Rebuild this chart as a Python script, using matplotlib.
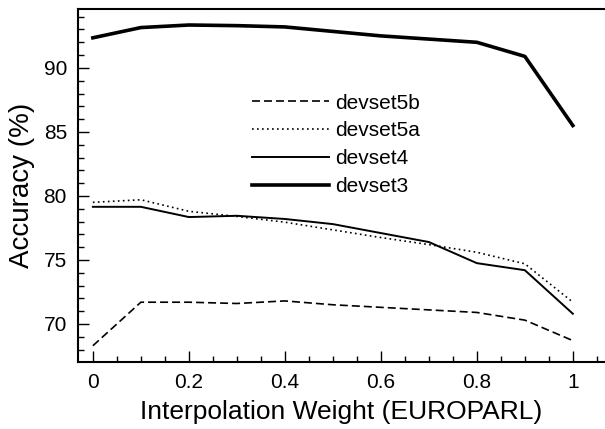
#!/usr/bin/env python

import matplotlib

matplotlib.use("Agg")
import matplotlib.pyplot as plt
from matplotlib.ticker import MultipleLocator

weights = [0.0, 0.1, 0.2, 0.3, 0.4, 0.5, 0.6, 0.7, 0.8, 0.9, 1.0]

devset5b = [68.3, 71.7, 71.7, 71.6, 71.8, 71.5, 71.3, 71.1, 70.9, 70.3, 68.7]
devset5a = [79.5, 79.7, 78.8, 78.4, 77.95, 77.35, 76.75, 76.2, 75.6, 74.7, 71.7]
devset4 = [79.15, 79.15, 78.35, 78.45, 78.2, 77.8, 77.1, 76.4, 74.75, 74.2, 70.8]
devset3 = [92.35, 93.15, 93.35, 93.3, 93.2, 92.85, 92.5, 92.25, 92.0, 90.9, 85.5]


def main():
    plt.rcParams["font.family"] = ["Liberation Sans", "DejaVu Sans"]

    fig = plt.figure(figsize=(6.05, 4.29), dpi=100)
    ax = fig.add_axes([78 / 605, 1 - 362 / 429, 527 / 605, 353 / 429])

    ax.plot(weights, devset5b, color="black", lw=1.2, dashes=(4.8, 2.4), label="devset5b")
    ax.plot(weights, devset5a, color="black", lw=1.2, dashes=(1, 2), label="devset5a")
    ax.plot(weights, devset4, color="black", lw=1.4, label="devset4")
    ax.plot(weights, devset3, color="black", lw=2.6, label="devset3")

    ax.set_xlim(-0.031, 1.067)
    ax.set_ylim(67.03, 94.6)

    ax.spines["right"].set_visible(False)
    for s in ["left", "bottom", "top"]:
        ax.spines[s].set_linewidth(1.5)

    ax.xaxis.set_major_locator(MultipleLocator(0.2))
    ax.xaxis.set_minor_locator(MultipleLocator(0.05))
    ax.yaxis.set_major_locator(MultipleLocator(5))
    ax.yaxis.set_minor_locator(MultipleLocator(1))
    ax.set_xticks([0, 0.2, 0.4, 0.6, 0.8, 1.0])
    ax.set_xticklabels(["0", "0.2", "0.4", "0.6", "0.8", "1"])

    ax.tick_params(which="both", direction="in", top=False, right=False,
                   labelsize=15, width=1.0)
    ax.tick_params(which="major", length=8, pad=8)
    ax.tick_params(which="minor", length=4)

    ax.set_xlabel("Interpolation Weight (EUROPARL)", fontsize=19, labelpad=6)
    ax.set_ylabel("Accuracy (%)", fontsize=20, labelpad=6)

    ax.legend(loc="upper left", bbox_to_anchor=(0.33, 0.76), frameon=False,
              fontsize=15, handlelength=3.7, handletextpad=0.3,
              labelspacing=0.42, borderpad=0, borderaxespad=0)

    plt.savefig("out.png", dpi=100)


if __name__ == "__main__":
    main()
